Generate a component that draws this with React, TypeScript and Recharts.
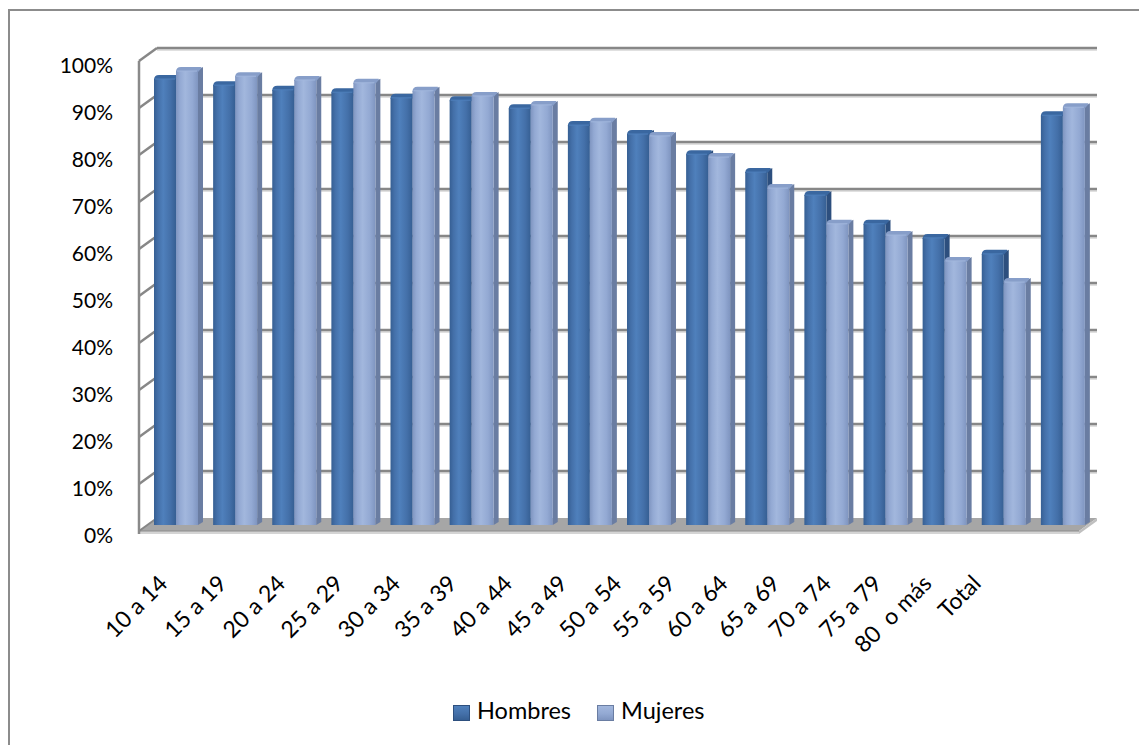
import { Bar, BarChart, CartesianGrid, Legend, XAxis, YAxis } from "recharts"

const categories = [
    "10 a 14", "15 a 19", "20 a 24", "25 a 29", "30 a 34", "35 a 39", "40 a 44", "45 a 49",
    "50 a 54", "55 a 59", "60 a 64", "65 a 69", "70 a 74", "75 a 79", "80  o más", "Total",
]
const hombres = [0.951, 0.938, 0.928, 0.923, 0.911, 0.906, 0.889, 0.853, 0.834, 0.791, 0.753, 0.704, 0.643, 0.613, 0.579, 0.874]
const mujeres = [0.968, 0.957, 0.949, 0.943, 0.926, 0.915, 0.896, 0.860, 0.830, 0.785, 0.719, 0.643, 0.619, 0.564, 0.519, 0.891]
const yTicks = [0, 0.1, 0.2, 0.3, 0.4, 0.5, 0.6, 0.7, 0.8, 0.9, 1]
const seriesNames = ["Hombres", "Mujeres"]

const data = categories.map((name, i) => ({ name, hombres: hombres[i], mujeres: mujeres[i] }))

const W = 1139
const H = 745
const FONT = "Lato, 'Open Sans', sans-serif"

// depth of each bar (side + top faces)
const DX = 5
const DY = 3
// wall depth: front edge sits lower-left, back wall upper-right
const FRONT_X = -7
const FRONT_Y = 6
const BACK_X = 11
const BACK_Y = -7

const palette: Record<string, { light: string, face: string, dark: string, side: string, top: string }> = {
    hombres: { light: "#4f80bc", face: "#4470a9", dark: "#365f93", side: "#2d4f7e", top: "#3a67a0" },
    mujeres: { light: "#a2b7dd", face: "#93a9d3", dark: "#7f95c0", side: "#6a7da2", top: "#879ec9" },
}

const Bar3D = (props: any) => {
    const { x, y, width: w, height: h, tone } = props
    if (!h || h <= 0) return null
    const c = palette[tone]
    return (
        <g>
            <polygon
                points={`${x + w},${y} ${x + w + DX},${y - DY} ${x + w + DX},${y + h - DY} ${x + w},${y + h}`}
                fill={c.side}
            />
            <path
                d={`M${x},${y + 2} Q${x},${y - DY} ${x + DX},${y - DY} L${x + w + DX - 2},${y - DY} Q${x + w + DX},${y - DY} ${x + w},${y + 2} Z`}
                fill={c.top}
            />
            <rect x={x} y={y + 1} width={w} height={h - 1} fill={`url(#face-${tone})`} />
            <line x1={x + 1} y1={y + 1} x2={x + w - 1} y2={y + 1} stroke={c.light} strokeWidth={1} />
        </g>
    )
}

// back wall gridlines, the side wall and the floor, all hung off the y ticks
const gridLine = (p: any) => {
    const { x, y, width, height, y1, key } = p
    const bottom = y + height
    const left = x + FRONT_X
    const back = x + BACK_X
    const right = x + width + 5
    const isFloor = Math.abs(y1 - bottom) < 0.5
    const isTop = Math.abs(y1 - y) < 0.5

    if (isFloor) {
        const fy = y1 + FRONT_Y
        const by = y1 + BACK_Y
        const fr = right - (BACK_X - FRONT_X)
        return (
            <g key={key}>
                <polygon points={`${left},${fy} ${fr},${fy} ${right},${by} ${back},${by}`} fill="#a6a6a6" />
                <polygon points={`${left},${fy} ${fr},${fy} ${fr},${fy + 3} ${left},${fy + 3}`} fill="#d4d4d4" />
                <polygon points={`${fr},${fy} ${right},${by} ${right},${by + 3} ${fr},${fy + 3}`} fill="#bfbfbf" />
                <line x1={left} y1={fy} x2={fr} y2={fy} stroke="#8c8c8c" strokeWidth={1} />
                <line x1={left} y1={fy} x2={back} y2={by} stroke="#868686" strokeWidth={2} />
            </g>
        )
    }

    return (
        <g key={key}>
            {isTop && (
                <line x1={left} y1={y1 + FRONT_Y} x2={left} y2={bottom + FRONT_Y + 3} stroke="#8a8a8a" strokeWidth={2.5} />
            )}
            <line x1={back} y1={y1 + BACK_Y + 2} x2={right} y2={y1 + BACK_Y + 2} stroke="#d6d6d6" strokeWidth={1.5} />
            <line x1={back} y1={y1 + BACK_Y} x2={right} y2={y1 + BACK_Y} stroke="#878787" strokeWidth={2.5} />
            <line x1={left} y1={y1 + FRONT_Y} x2={back} y2={y1 + BACK_Y} stroke="#878787" strokeWidth={2.5} />
        </g>
    )
}

const YTick = (p: any) => (
    <text
        x={p.x}
        y={p.y + 9}
        textAnchor="end"
        dominantBaseline="central"
        fontSize={21}
        fontFamily={FONT}
        fill="#000"
    >
        {`${Math.round(p.payload.value * 100)}%`}
    </text>
)

const XTick = (p: any) => {
    const i = p.index
    // labels follow the receding front edge, so they drift left of their bars
    const ax = p.x - 6.6 + 0.5 * i - 0.36 * i * i
    const ay = p.y + 60
    return (
        <g transform={`translate(${ax},${ay}) rotate(-45)`}>
            <text
                x={0}
                y={0}
                textAnchor="end"
                fontSize={23}
                fontFamily={FONT}
                fill="#000"
                style={{ whiteSpace: "pre" }}
            >
                {p.payload.value}
            </text>
        </g>
    )
}

const LegendContent = () => (
    <div style={{ display: "flex", fontFamily: FONT, fontSize: 23.5, lineHeight: "24px", color: "#000" }}>
        {seriesNames.map((name, i) => {
            const c = palette[i === 0 ? "hombres" : "mujeres"]
            return (
                <div key={name} style={{ display: "flex", alignItems: "flex-start", marginRight: 26 }}>
                    <span
                        style={{
                            display: "inline-block",
                            width: 15,
                            height: 14,
                            marginTop: 7,
                            marginRight: 7,
                            background: `linear-gradient(to bottom, ${c.light}, ${c.face} 55%, ${c.dark})`,
                            border: `1px solid ${c.side}`,
                        }}
                    />
                    <span>{name}</span>
                </div>
            )
        })}
    </div>
)

export default function App() {
    return (
        <div style={{ position: "absolute", left: 0, top: 0, width: W, height: H, overflow: "hidden", background: "#fff" }}>
            <div
                style={{
                    position: "absolute",
                    left: 8,
                    top: 9,
                    width: W + 20,
                    height: H + 20,
                    borderLeft: "2px solid #8c8c8c",
                    borderTop: "2px solid #8c8c8c",
                }}
            />
            <BarChart
                width={W}
                height={H}
                data={data}
                margin={{ top: 55, right: 47, bottom: 0, left: 46 }}
                barGap={0}
                barSize={22}
            >
                <defs>
                    {Object.entries(palette).map(([k, c]) => (
                        <linearGradient key={k} id={`face-${k}`} x1="0" y1="0" x2="1" y2="0">
                            <stop offset="0%" stopColor={c.dark} />
                            <stop offset="18%" stopColor={c.face} />
                            <stop offset="42%" stopColor={c.light} />
                            <stop offset="75%" stopColor={c.face} />
                            <stop offset="100%" stopColor={c.dark} />
                        </linearGradient>
                    ))}
                </defs>

                <CartesianGrid horizontal={gridLine} vertical={false} />

                <XAxis
                    dataKey="name"
                    height={H - 525}
                    axisLine={false}
                    tickLine={false}
                    tickSize={0}
                    tickMargin={0}
                    interval={0}
                    tick={<XTick />}
                />
                <YAxis
                    type="number"
                    domain={[0, 1]}
                    ticks={yTicks}
                    width={100}
                    axisLine={false}
                    tickLine={false}
                    tickSize={0}
                    tickMargin={33}
                    tick={<YTick />}
                />

                <Legend
                    layout="horizontal"
                    verticalAlign="middle"
                    align="center"
                    wrapperStyle={{ top: 698, left: 453, width: 330 }}
                    content={<LegendContent />}
                />

                <Bar
                    dataKey="hombres"
                    name="Hombres"
                    fill="#4470a9"
                    isAnimationActive={false}
                    shape={(p: any) => <Bar3D {...p} tone="hombres" />}
                />
                <Bar
                    dataKey="mujeres"
                    name="Mujeres"
                    fill="#93a9d3"
                    isAnimationActive={false}
                    shape={(p: any) => <Bar3D {...p} tone="mujeres" />}
                />
            </BarChart>
        </div>
    )
}
